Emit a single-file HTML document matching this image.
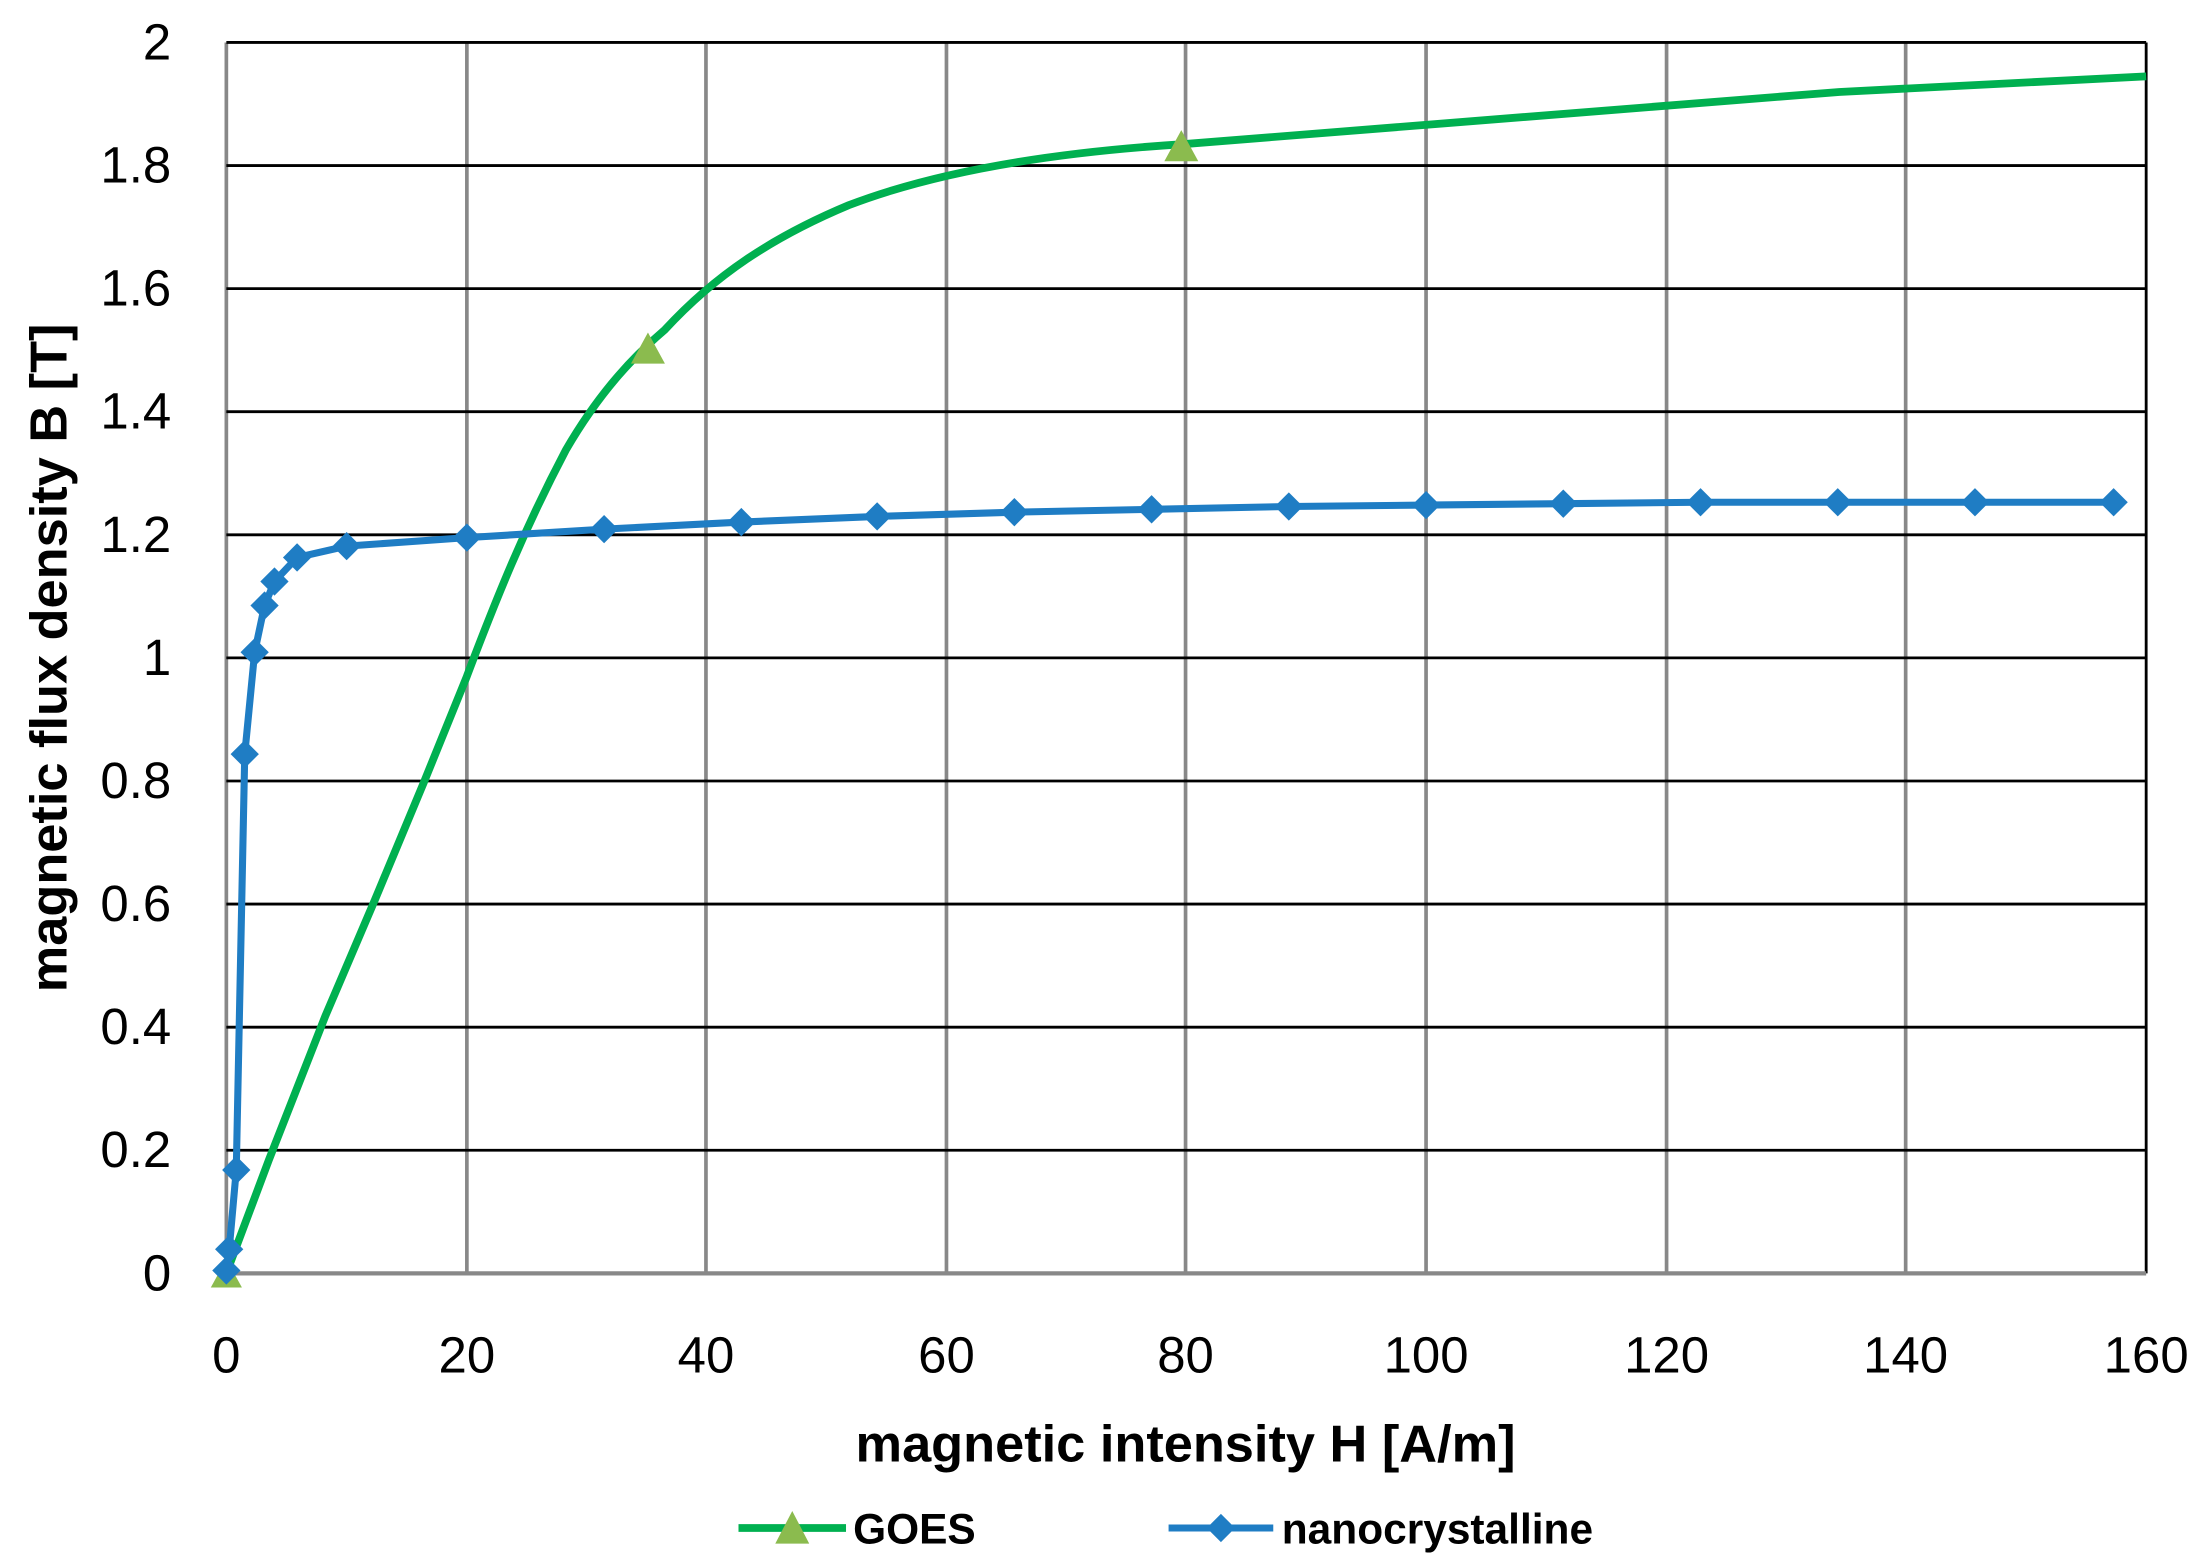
<!DOCTYPE html>
<html><head><meta charset="utf-8"><style>
html,body{margin:0;padding:0;background:#fff}
svg{display:block}
text{font-family:"Liberation Sans",sans-serif;fill:#000}
</style></head><body>
<svg width="2207" height="1558" viewBox="0 0 1560 1101.2" preserveAspectRatio="none" xmlns="http://www.w3.org/2000/svg">
<rect width="1560" height="1102" fill="#fff"/>
<g stroke="#888" stroke-width="2.6">
<line x1="160" y1="30" x2="160" y2="900"/><line x1="330" y1="30" x2="330" y2="900"/><line x1="499" y1="30" x2="499" y2="900"/><line x1="669" y1="30" x2="669" y2="900"/><line x1="838" y1="30" x2="838" y2="900"/><line x1="1008" y1="30" x2="1008" y2="900"/><line x1="1178" y1="30" x2="1178" y2="900"/><line x1="1347" y1="30" x2="1347" y2="900"/>
</g>
<g stroke="#000" stroke-width="2">
<line x1="160" y1="30" x2="1517" y2="30"/><line x1="160" y1="117" x2="1517" y2="117"/><line x1="160" y1="204" x2="1517" y2="204"/><line x1="160" y1="291" x2="1517" y2="291"/><line x1="160" y1="378" x2="1517" y2="378"/><line x1="160" y1="465" x2="1517" y2="465"/><line x1="160" y1="552" x2="1517" y2="552"/><line x1="160" y1="639" x2="1517" y2="639"/><line x1="160" y1="726" x2="1517" y2="726"/><line x1="160" y1="813" x2="1517" y2="813"/>
<line x1="1517" y1="30" x2="1517" y2="900"/>
</g>
<line x1="160" y1="900" x2="1517" y2="900" stroke="#888" stroke-width="3"/>
<g font-size="36" text-anchor="end">
<text x="121" y="42">2</text><text x="121" y="129">1.8</text><text x="121" y="216">1.6</text><text x="121" y="303">1.4</text><text x="121" y="390">1.2</text><text x="121" y="477">1</text><text x="121" y="564">0.8</text><text x="121" y="651">0.6</text><text x="121" y="738">0.4</text><text x="121" y="825">0.2</text><text x="121" y="912">0</text>
</g>
<g font-size="36" text-anchor="middle">
<text x="160" y="970">0</text><text x="330" y="970">20</text><text x="499" y="970">40</text><text x="669" y="970">60</text><text x="838" y="970">80</text><text x="1008" y="970">100</text><text x="1178" y="970">120</text><text x="1347" y="970">140</text><text x="1517" y="970">160</text>
</g>
<text x="838" y="1033" font-size="37" font-weight="bold" text-anchor="middle">magnetic intensity H [A/m]</text>
<text transform="translate(47,465) rotate(-90)" font-size="37" font-weight="bold" text-anchor="middle">magnetic flux density B [T]</text>
<path d="M160,900 L190,820 L230,718 L265,636 L300,552 L330,478 C350,425 370,375 400,318 C425,275 450,250 470,233 C505,195 545,168 600,145 C660,122 740,108 835,102 C950,93 1100,80 1300,65 L1517,54" fill="none" stroke="#00b050" stroke-width="5.5"/>
<g fill="#8bbb4e">
<polygon points="160,890 149,910 171,910"/><polygon points="458,235 446,257 470,257"/><polygon points="835,92 823,114 847,114"/>
</g>
<polyline points="160,898 162,883 167,827 173,533 180,461 187,428 194,411 210,394 245,386 330,380 427,374 524,369 620,365 717,362 814,360 911,358 1008,357 1105,356 1202,355 1299,355 1396,355 1494,355" fill="none" stroke="#1f7dc4" stroke-width="5"/>
<g fill="#1f7dc4">
<polygon points="160,888 170,898 160,908 150,898"/><polygon points="162,873 172,883 162,893 152,883"/><polygon points="167,817 177,827 167,837 157,827"/><polygon points="173,523 183,533 173,543 163,533"/><polygon points="180,451 190,461 180,471 170,461"/><polygon points="187,418 197,428 187,438 177,428"/><polygon points="194,401 204,411 194,421 184,411"/><polygon points="210,384 220,394 210,404 200,394"/><polygon points="245,376 255,386 245,396 235,386"/><polygon points="330,370 340,380 330,390 320,380"/><polygon points="427,364 437,374 427,384 417,374"/><polygon points="524,359 534,369 524,379 514,369"/><polygon points="620,355 630,365 620,375 610,365"/><polygon points="717,352 727,362 717,372 707,362"/><polygon points="814,350 824,360 814,370 804,360"/><polygon points="911,348 921,358 911,368 901,358"/><polygon points="1008,347 1018,357 1008,367 998,357"/><polygon points="1105,346 1115,356 1105,366 1095,356"/><polygon points="1202,345 1212,355 1202,365 1192,355"/><polygon points="1299,345 1309,355 1299,365 1289,355"/><polygon points="1396,345 1406,355 1396,365 1386,355"/><polygon points="1494,345 1504,355 1494,365 1484,355"/>
</g>
<line x1="522" y1="1080" x2="598" y2="1080" stroke="#00b050" stroke-width="5.5"/>
<polygon points="560,1068 548,1091 572,1091" fill="#8bbb4e"/>
<text x="603" y="1091" font-size="30" font-weight="bold">GOES</text>
<line x1="826" y1="1080" x2="900" y2="1080" stroke="#1f7dc4" stroke-width="5"/>
<polygon points="863,1070 873,1080 863,1090 853,1080" fill="#1f7dc4"/>
<text x="906" y="1091" font-size="30" font-weight="bold">nanocrystalline</text>
</svg>
</body></html>
